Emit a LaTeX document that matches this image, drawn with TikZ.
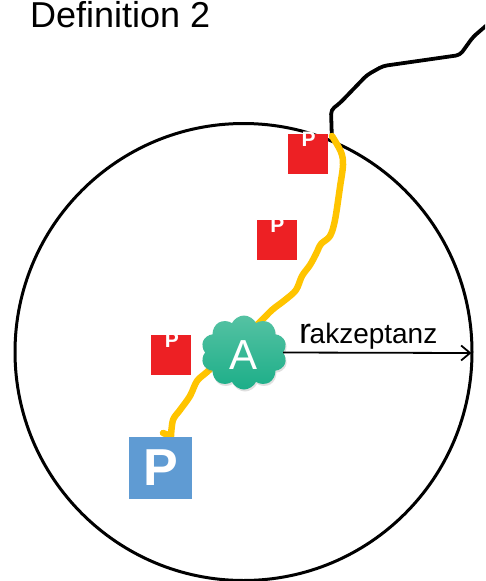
\documentclass[tikz,border=0pt]{standalone}
\usepackage{fontspec}
\setmainfont{Liberation Sans}
\usetikzlibrary{shapes.symbols,arrows.meta,shadows}
\definecolor{pred}{HTML}{ED2024}
\definecolor{pblue}{HTML}{5F9BD3}
\definecolor{road}{HTML}{FFC400}
\definecolor{cloudtop}{HTML}{55C2A3}
\definecolor{cloudbot}{HTML}{1CAE88}
\tikzset{
  redbox/.style={fill=pred,draw=none,minimum width=40pt,minimum height=40pt,inner sep=0pt},
  redp/.style={text=white,font=\bfseries\fontsize{21}{21}\selectfont,inner sep=0pt,anchor=north},
  bluebox/.style={fill=pblue,draw=none,minimum width=63pt,minimum height=62pt,inner sep=0pt,
     text=white,font=\bfseries\fontsize{52}{52}\selectfont},
  yellowroad/.style={road,line width=6.5pt,line cap=round,line join=round},
  blackroad/.style={black,line width=3.8pt,line join=round,rounded corners=4pt},
  acloud/.style={cloud,cloud puffs=10,cloud puff arc=130,aspect=1.2,minimum width=86pt,minimum height=74pt,
     inner sep=0pt,draw=none,top color=cloudtop,bottom color=cloudbot,
     drop shadow={opacity=0.25,shadow xshift=1pt,shadow yshift=-2pt}},
}
\begin{document}
\begin{tikzpicture}[x=1pt,y=-1pt]
\useasboundingbox (0,0) rectangle (485,581);
\clip (0,0) rectangle (485,581);
% title
\node[anchor=base west,inner sep=0pt,font=\fontsize{36}{40}\selectfont] (title) at (30,27) {Definition 2};
% circle
\draw[line width=3pt] (243.5,352) circle[radius=228.5pt];
% black road
\draw[blackroad] (332,142) -- (331,110) -- (340,103) -- (367,75) -- (383,66) -- (460,55) -- (473,37) -- (495,18);
% red boxes
\node[redbox] (p1) at (308,153.5) {};
\node[redbox] (p2) at (277,239.5) {};
\node[redbox] (p3) at (171,354.5) {};
\node[redp] (p1t) at (308.5,131.5) {P};
\node[redp] (p2t) at (277.5,217.5) {P};
\node[redp] (p3t) at (172,333) {P};
% yellow route
\draw[yellowroad] plot[smooth,tension=0.55] coordinates {(332,136) (341,152) (343,165) (340,187) (335,220) (330,236) (321,244) (316,254) (310,265) (302,276) (296,290) (285,300) (272,310) (260,322) (240,340) (220,360) (207,372) (197,381) (190,396) (180,410) (173,420) (171,436)};
\draw[yellowroad] (171,436) -- (163,433);
% blue box
\node[bluebox] (pb) at (160.5,468) {P};
% cloud
\node[acloud] (A) at (244,352.5) {};
\node[text=white,font=\fontsize{42}{42}\selectfont,inner sep=0pt] (Atext) at (244,355) {A};
% radius arrow
\coordinate (rend) at (471.5,353);
\draw[line width=1.8pt,-{Straight Barb[length=9pt,width=15pt,line width=1.8pt]}] (A.east) -- (rend);
\node[anchor=base west,inner sep=0pt] (rlabel) at (299,343) {\fontsize{36}{36}\selectfont r\kern-1.5pt\fontsize{28}{28}\selectfont akzeptanz};
\end{tikzpicture}
\end{document}
